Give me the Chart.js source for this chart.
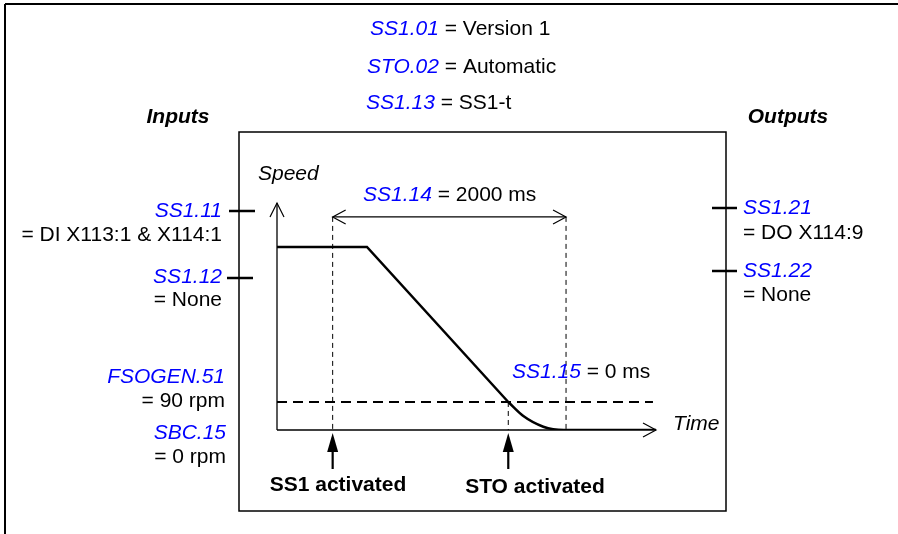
<!DOCTYPE html>
<html>
<head>
<meta charset="utf-8">
<script src="https://cdn.jsdelivr.net/npm/chart.js@4.4.1/dist/chart.umd.min.js"></script>
<style>
  body { margin: 0; background: #fff; }
  #wrap { width: 898px; height: 534px; position: relative; }
</style>
</head>
<body>
<div id="wrap"><canvas id="chart"></canvas></div>
<script>
// time in ms (0 = SS1 activated), speed in % of starting speed (diagram is not to scale)
const speedTimes = [-477, 294, 1505];
const speedValues = [100, 100, 15.3];
const brakeTimes = [1505, 1634, 1805, 1980, 2771];
const brakeValues = [15.3, 7.6, 1.8, 0, 0];

const thresholdSpeed = 15.3;      // FSOGEN.51 = 90 rpm
const thresholdTimes = [-477, 2745];
const ss1Start = 0;
const ss1Delay = 2000;            // SS1.14
const stoTime = 1505;
const markerTop = 116.4;

const xMin = -477, xMax = 2771;
const yMin = 0, yMax = 124;

const BLUE = '#0000ff';
const FONT = '"Liberation Sans", Arial, sans-serif';
const F_IT = 'italic 21px ' + FONT;
const F_N = '21px ' + FONT;
const F_B = 'bold 21px ' + FONT;
const F_BI = 'italic bold 21px ' + FONT;

function pts(xs, ys) {
    return xs.map((x, i) => ({x: x, y: ys[i]}));
}

function drawParts(ctx, parts, x, y, align) {
    let w = 0;
    parts.forEach(p => { ctx.font = p[1]; w += ctx.measureText(p[0]).width; });
    let cx = align === 'right' ? x - w : align === 'center' ? x - w / 2 : x;
    ctx.textAlign = 'left';
    ctx.textBaseline = 'middle';
    parts.forEach(p => {
        ctx.font = p[1];
        ctx.fillStyle = p[2] || '#000';
        ctx.fillText(p[0], cx, y);
        cx += ctx.measureText(p[0]).width;
    });
}

function line(ctx, x1, y1, x2, y2, w) {
    ctx.beginPath();
    ctx.lineWidth = w;
    ctx.moveTo(x1, y1);
    ctx.lineTo(x2, y2);
    ctx.stroke();
}

function chevron(ctx, tx, ty, ax, ay, bx, by) {
    ctx.beginPath();
    ctx.lineWidth = 1.2;
    ctx.moveTo(ax, ay);
    ctx.lineTo(tx, ty);
    ctx.lineTo(bx, by);
    ctx.stroke();
}

const diagramPlugin = {
    id: 'diagram',
    beforeDatasetsDraw(chart) {
        const ctx = chart.ctx;
        const xs = chart.scales.x, ys = chart.scales.y;
        const x0 = xs.getPixelForValue(xMin), x1 = xs.getPixelForValue(xMax);
        const y0 = ys.getPixelForValue(yMin), y1 = ys.getPixelForValue(yMax);
        ctx.save();
        ctx.strokeStyle = '#000';
        ctx.setLineDash([]);
        // axes
        line(ctx, x0, y0, x0, y1, 1.3);
        line(ctx, x0, y0, x1, y0, 1.3);
        chevron(ctx, x0, y1, x0 - 7, y1 + 14, x0 + 7, y1 + 14);
        chevron(ctx, x1, y0, x1 - 13, y0 - 7, x1 - 13, y0 + 7);
        ctx.restore();
    },
    afterDraw(chart) {
        const ctx = chart.ctx;
        const xs = chart.scales.x, ys = chart.scales.y;
        ctx.save();
        ctx.strokeStyle = '#000';
        ctx.fillStyle = '#000';
        ctx.lineCap = 'butt';

        // outer frame and inner box
        line(ctx, 5, 4, 898, 4, 2);
        line(ctx, 5, 4, 5, 534, 2);
        ctx.lineWidth = 1.5;
        ctx.strokeRect(239, 132, 487, 379);

        // input / output ticks
        line(ctx, 229, 211, 255, 211, 2.5);
        line(ctx, 227, 278, 253, 278, 2.5);
        line(ctx, 712, 208, 737, 208, 2.5);
        line(ctx, 712, 271, 737, 271, 2.5);

        // SS1.14 double arrow
        const ax1 = xs.getPixelForValue(ss1Start), ax2 = xs.getPixelForValue(ss1Start + ss1Delay);
        const ay = ys.getPixelForValue(markerTop);
        line(ctx, ax1, ay, ax2, ay, 1.2);
        chevron(ctx, ax1, ay, ax1 + 13, ay - 7, ax1 + 13, ay + 7);
        chevron(ctx, ax2, ay, ax2 - 13, ay - 7, ax2 - 13, ay + 7);

        // event arrows
        [ss1Start, stoTime].forEach(t => {
            const px = xs.getPixelForValue(t);
            line(ctx, px, 450, px, 469, 2.2);
            ctx.beginPath();
            ctx.moveTo(px, 433);
            ctx.lineTo(px - 5.5, 452);
            ctx.lineTo(px + 5.5, 452);
            ctx.closePath();
            ctx.fill();
        });

        // texts
        drawParts(ctx, [['SS1.01', F_IT, BLUE], [' = Version 1', F_N]], 370, 29, 'left');
        drawParts(ctx, [['STO.02', F_IT, BLUE], [' = Automatic', F_N]], 367, 67, 'left');
        drawParts(ctx, [['SS1.13', F_IT, BLUE], [' = SS1-t', F_N]], 366, 103, 'left');
        drawParts(ctx, [['Inputs', F_BI]], 178, 117, 'center');
        drawParts(ctx, [['Outputs', F_BI]], 788, 117, 'center');

        drawParts(ctx, [['SS1.11', F_IT, BLUE]], 222, 211, 'right');
        drawParts(ctx, [['= DI X113:1 & X114:1', F_N]], 222, 235, 'right');
        drawParts(ctx, [['SS1.12', F_IT, BLUE]], 222, 277, 'right');
        drawParts(ctx, [['= None', F_N]], 222, 300, 'right');
        drawParts(ctx, [['FSOGEN.51', F_IT, BLUE]], 225, 377, 'right');
        drawParts(ctx, [['= 90 rpm', F_N]], 225, 401, 'right');
        drawParts(ctx, [['SBC.15', F_IT, BLUE]], 226, 433, 'right');
        drawParts(ctx, [['= 0 rpm', F_N]], 226, 457, 'right');

        drawParts(ctx, [['SS1.21', F_IT, BLUE]], 743, 208, 'left');
        drawParts(ctx, [['= DO X114:9', F_N]], 743, 233, 'left');
        drawParts(ctx, [['SS1.22', F_IT, BLUE]], 743, 271, 'left');
        drawParts(ctx, [['= None', F_N]], 743, 295, 'left');

        drawParts(ctx, [['Speed', F_IT]], 258, 174, 'left');
        drawParts(ctx, [['Time', F_IT]], 673, 424, 'left');
        drawParts(ctx, [['SS1.14', F_IT, BLUE], [' = 2000 ms', F_N]], 363, 195, 'left');
        drawParts(ctx, [['SS1.15', F_IT, BLUE], [' = 0 ms', F_N]], 512, 372, 'left');
        drawParts(ctx, [['SS1 activated', F_B]], 338, 485, 'center');
        drawParts(ctx, [['STO activated', F_B]], 535, 487, 'center');
        ctx.restore();
    }
};

const dashedThin = {borderColor: '#000', borderWidth: 1, borderDash: [5, 4], pointRadius: 0, showLine: true, fill: false};

new Chart(document.getElementById('chart'), {
    type: 'scatter',
    data: {
        datasets: [
            Object.assign({data: pts([ss1Start, ss1Start], [markerTop, 0])}, dashedThin),
            Object.assign({data: pts([ss1Delay, ss1Delay], [markerTop, 0])}, dashedThin),
            Object.assign({data: pts([stoTime, stoTime], [thresholdSpeed, 0])}, dashedThin),
            {
                data: pts(thresholdTimes, [thresholdSpeed, thresholdSpeed]),
                borderColor: '#000', borderWidth: 2.2, borderDash: [10, 6],
                pointRadius: 0, showLine: true
            },
            {
                data: pts(speedTimes, speedValues),
                borderColor: '#000', borderWidth: 2.5, tension: 0,
                pointRadius: 0, showLine: true
            },
            {
                data: pts(brakeTimes, brakeValues),
                borderColor: '#000', borderWidth: 2.5, cubicInterpolationMode: 'monotone',
                pointRadius: 0, showLine: true
            }
        ]
    },
    options: {
        responsive: true,
        maintainAspectRatio: false,
        animation: false,
        layout: {padding: {left: 277, right: 242, top: 203, bottom: 104}},
        plugins: {legend: {display: false}, tooltip: {enabled: false}},
        scales: {
            x: {type: 'linear', min: xMin, max: xMax, display: false},
            y: {type: 'linear', min: yMin, max: yMax, display: false}
        }
    },
    plugins: [diagramPlugin]
});
</script>
</body>
</html>
